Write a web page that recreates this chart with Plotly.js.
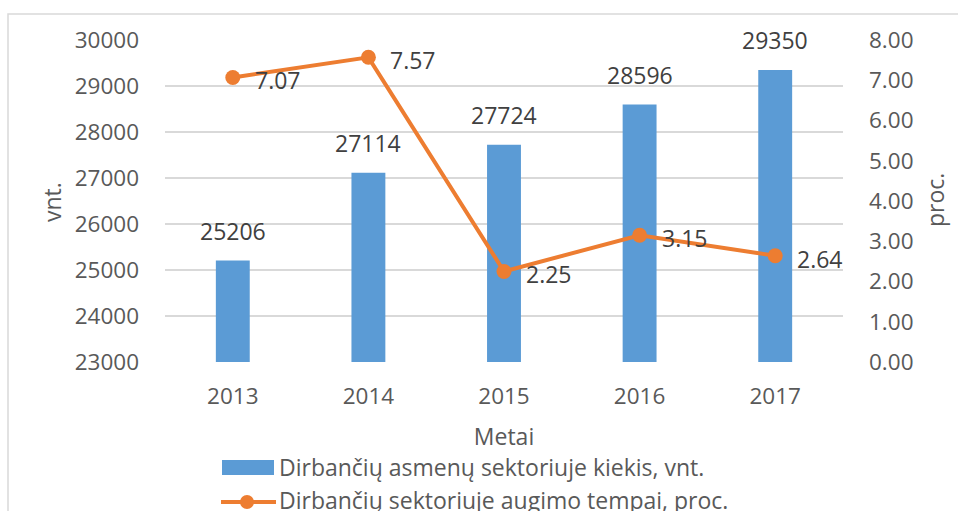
<!DOCTYPE html>
<html><head><meta charset="utf-8">
<script src="https://cdn.plot.ly/plotly-3.0.1.min.js"></script>
<style>html,body{margin:0;padding:0;background:#fff}</style>
</head><body><div id="chart" style="width:958px;height:511px"></div>
<script>
const years = ["2013","2014","2015","2016","2017"];
const workers = [25206, 27114, 27724, 28596, 29350];
const growth = [7.07, 7.57, 2.25, 3.15, 2.64];
const leftTicks = [23000,24000,25000,26000,27000,28000,29000,30000];
const rightTicks = [0,1,2,3,4,5,6,7,8];
const rightTickLabels = ["0.00","1.00","2.00","3.00","4.00","5.00","6.00","7.00","8.00"];
const barName = "Dirbančių asmenų sektoriuje kiekis, vnt.";
const lineName = "Dirbančių sektoriuje augimo tempai, proc.";

const font = "'Open Sans', sans-serif";
const grey = "#595959";
const dark = "#404040";
const W = 958, H = 511, L = 165, R = 115, T = 40, B = 149;
const pw = W - L - R, ph = H - T - B;
const px = v => (v - L) / pw;
const py = v => 1 - (v - T) / ph;
const FS = 22.5;

const data = [
  {type:"bar", x: years, y: workers, name: barName, marker:{color:"#5B9BD5"},
   width: 0.25, yaxis:"y", hoverinfo:"skip"},
  {type:"scatter", mode:"lines+markers", x: years, y: growth, name: lineName,
   yaxis:"y2", line:{color:"#ED7D31", width:4}, marker:{color:"#ED7D31", size:15},
   cliponaxis:false}
];

// category index positions on the category axis
const barLabels = years.map((yr, i) => ({
  xref:"x", yref:"y", x: i, y: workers[i], text: String(workers[i]),
  showarrow:false, xanchor:"center", yanchor:"bottom", yshift:12,
  font:{size:23, color:dark, family:font}
}));
const lineLabels = years.map((yr, i) => ({
  xref:"x", yref:"y2", x: i, y: growth[i], text: growth[i].toFixed(2),
  showarrow:false, xanchor:"left", yanchor:"middle", xshift:20, yshift:-3,
  font:{size:23, color:dark, family:font}
}));

const layout = {
  width: W, height: H, margin:{l:L, r:R, t:T, b:B, autoexpand:false},
  paper_bgcolor:"#fff", plot_bgcolor:"#fff", showlegend:false,
  font:{family:font, color:grey, size:FS},
  xaxis:{type:"category", range:[-0.5, years.length - 0.5], autorange:false,
    tickfont:{size:FS, color:grey}, showline:false, ticks:"",
    ticklabelstandoff:18,
    title:{text:"Metai", font:{size:23, color:grey}, standoff:19}},
  yaxis:{range:[23000,30000], tickvals:leftTicks, ticktext:leftTicks.map(String),
    showgrid:true, gridcolor:"#d9d9d9", gridwidth:1.3, zeroline:false,
    tickfont:{size:FS, color:grey}, ticklabelstandoff:25},
  yaxis2:{overlaying:"y", side:"right", range:[0,8], tickvals:rightTicks, ticktext:rightTickLabels,
    showgrid:false, zeroline:false, tickfont:{size:FS, color:grey}, ticklabelstandoff:25},
  shapes:[
    {type:"path", xref:"paper", yref:"paper",
     path:`M ${px(8)} ${py(560)} L ${px(8)} ${py(14)} L ${px(970)} ${py(14)}`,
     line:{color:"#d9d9d9", width:1.5}},
    {type:"rect", xref:"paper", yref:"paper", x0:px(222), x1:px(274), y0:py(475), y1:py(460),
     fillcolor:"#5B9BD5", line:{width:0}},
    {type:"line", xref:"paper", yref:"paper", x0:px(221), x1:px(276), y0:py(502), y1:py(502),
     line:{color:"#ED7D31", width:4}},
    {type:"circle", xref:"paper", yref:"paper", x0:px(240), x1:px(254), y0:py(509), y1:py(495),
     fillcolor:"#ED7D31", line:{width:0}}
  ],
  annotations: barLabels.concat(lineLabels, [
    {xref:"paper", yref:"paper", x:px(52), y:py(202), xanchor:"center", yanchor:"middle",
     text:"vnt.", textangle:-90, showarrow:false, font:{size:23, color:grey, family:font}},
    {xref:"paper", yref:"paper", x:px(935), y:py(200), xanchor:"center", yanchor:"middle",
     text:"proc.", textangle:-90, showarrow:false, font:{size:23, color:grey, family:font}},
    {xref:"paper", yref:"paper", x:px(277), y:py(467), xanchor:"left", yanchor:"middle",
     text:barName, showarrow:false, font:{size:23, color:grey, family:font}},
    {xref:"paper", yref:"paper", x:px(277), y:py(500), xanchor:"left", yanchor:"middle",
     text:lineName, showarrow:false, font:{size:23, color:grey, family:font}}
  ])
};
Plotly.newPlot("chart", data, layout, {displayModeBar:false, staticPlot:true});
</script></body></html>
